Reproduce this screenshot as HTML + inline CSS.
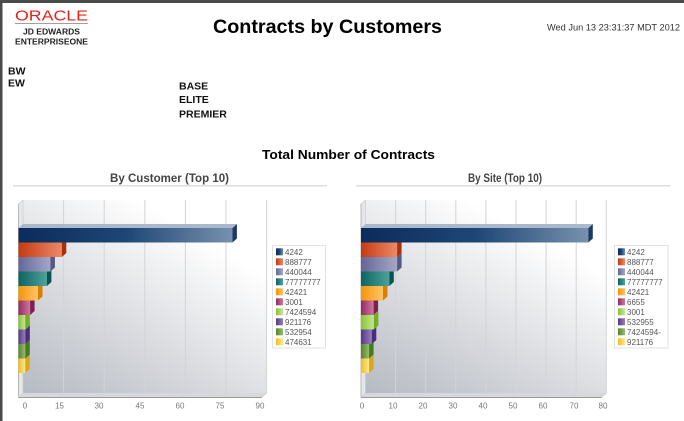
<!DOCTYPE html>
<html><head><meta charset="utf-8"><style>
html,body{margin:0;padding:0;background:#fff;}
svg{display:block;}
</style></head><body>
<svg width="684" height="421" viewBox="0 0 684 421" xmlns="http://www.w3.org/2000/svg" font-family="Liberation Sans, Arial, sans-serif">
<defs>
<linearGradient id="wallL" gradientUnits="userSpaceOnUse" x1="23" y1="393" x2="140" y2="200"><stop offset="0" stop-color="#b6bac2"/><stop offset="1" stop-color="#ffffff"/></linearGradient>
<linearGradient id="wallR" gradientUnits="userSpaceOnUse" x1="366" y1="393" x2="470" y2="200"><stop offset="0" stop-color="#b6bac2"/><stop offset="1" stop-color="#ffffff"/></linearGradient>
<linearGradient id="sh" x1="0" y1="0" x2="0" y2="1"><stop offset="0" stop-color="#fff" stop-opacity="0.25"/><stop offset="0.5" stop-color="#fff" stop-opacity="0"/><stop offset="1" stop-color="#000" stop-opacity="0.15"/></linearGradient>
<linearGradient id="c1" x1="0" x2="1"><stop offset="0" stop-color="#0b2c5c"/><stop offset="0.5" stop-color="#1d4676"/><stop offset="1" stop-color="#7891ae"/></linearGradient>
<linearGradient id="c2" x1="0" x2="1"><stop offset="0" stop-color="#c43a12"/><stop offset="1" stop-color="#ec8a68"/></linearGradient>
<linearGradient id="c3" x1="0" x2="1"><stop offset="0" stop-color="#646796"/><stop offset="1" stop-color="#a5a7c8"/></linearGradient>
<linearGradient id="c4" x1="0" x2="1"><stop offset="0" stop-color="#0c6460"/><stop offset="1" stop-color="#4ea29c"/></linearGradient>
<linearGradient id="c5" x1="0" x2="1"><stop offset="0" stop-color="#f39608"/><stop offset="1" stop-color="#ffc468"/></linearGradient>
<linearGradient id="c6" x1="0" x2="1"><stop offset="0" stop-color="#952a5e"/><stop offset="1" stop-color="#cc7aa0"/></linearGradient>
<linearGradient id="c7" x1="0" x2="1"><stop offset="0" stop-color="#88c436"/><stop offset="1" stop-color="#c8e690"/></linearGradient>
<linearGradient id="c8" x1="0" x2="1"><stop offset="0" stop-color="#563888"/><stop offset="1" stop-color="#9680bc"/></linearGradient>
<linearGradient id="c9" x1="0" x2="1"><stop offset="0" stop-color="#568628"/><stop offset="1" stop-color="#98bc70"/></linearGradient>
<linearGradient id="c10" x1="0" x2="1"><stop offset="0" stop-color="#f0be24"/><stop offset="1" stop-color="#ffe690"/></linearGradient>
</defs>

<!-- page frame -->
<rect x="0" y="0" width="684" height="3" fill="#4a4a4a"/>
<rect x="0" y="0" width="2.5" height="421" fill="#4a4a4a"/>

<!-- logo -->
<text x="15" y="20.5" font-size="15" fill="#e2231a" textLength="73" lengthAdjust="spacingAndGlyphs">ORACLE</text>
<rect x="15" y="23" width="73" height="1" fill="#a0a0a0"/>
<text x="51.5" y="34.5" font-size="8" font-weight="bold" fill="#222" text-anchor="middle" textLength="57" lengthAdjust="spacingAndGlyphs">JD EDWARDS</text>
<text x="51.5" y="44.5" font-size="8" font-weight="bold" fill="#222" text-anchor="middle" textLength="73" lengthAdjust="spacingAndGlyphs">ENTERPRISEONE</text>

<text x="327.5" y="33" font-size="19.7" font-weight="bold" fill="#000" text-anchor="middle" textLength="229" lengthAdjust="spacingAndGlyphs">Contracts by Customers</text>
<text x="547" y="30.5" font-size="9" fill="#333" textLength="133" lengthAdjust="spacingAndGlyphs">Wed Jun 13 23:31:37 MDT 2012</text>

<g font-size="10.5" font-weight="bold" fill="#111">
<text x="8" y="74.5">BW</text>
<text x="8" y="86.5">EW</text>
<text x="179" y="89.5">BASE</text>
<text x="179" y="103">ELITE</text>
<text x="179" y="117.5">PREMIER</text>
</g>

<text x="348.5" y="159" font-size="12.5" font-weight="bold" fill="#000" text-anchor="middle" textLength="173" lengthAdjust="spacingAndGlyphs">Total Number of Contracts</text>

<text x="169.5" y="182" font-size="11.5" font-weight="bold" fill="#444" text-anchor="middle" textLength="119" lengthAdjust="spacingAndGlyphs">By Customer (Top 10)</text>
<rect x="13" y="185" width="314" height="1.5" fill="#dedede"/>
<text x="505" y="182" font-size="11.5" font-weight="bold" fill="#444" text-anchor="middle" textLength="74" lengthAdjust="spacingAndGlyphs">By Site (Top 10)</text>
<rect x="356" y="185" width="314" height="1.5" fill="#dedede"/>

<!-- LEFT CHART -->
<rect x="23" y="200" width="243.6" height="193" fill="url(#wallL)"/>
<polygon points="18.5,204 23,200 23,393 18.5,397" fill="#e4e6ea" stroke="#c8c8c8" stroke-width="0.6"/>
<polygon points="18.5,397 23,393 266.6,393 262,397" fill="#d6d8dc"/>
<g stroke="#d2d4d8" stroke-width="1">
<line x1="63.6" y1="200" x2="63.6" y2="393"/><line x1="63.6" y1="393" x2="59.1" y2="397"/>
<line x1="104.2" y1="200" x2="104.2" y2="393"/><line x1="104.2" y1="393" x2="99.7" y2="397"/>
<line x1="144.8" y1="200" x2="144.8" y2="393"/><line x1="144.8" y1="393" x2="140.3" y2="397"/>
<line x1="185.4" y1="200" x2="185.4" y2="393"/><line x1="185.4" y1="393" x2="180.9" y2="397"/>
<line x1="226" y1="200" x2="226" y2="393"/><line x1="226" y1="393" x2="221.5" y2="397"/>
<line x1="266.6" y1="200" x2="266.6" y2="393"/><line x1="266.6" y1="393" x2="262" y2="397"/>
</g>
<line x1="18.5" y1="397.5" x2="262" y2="397.5" stroke="#9a9a9a" stroke-width="1"/>
<line x1="18.5" y1="204" x2="18.5" y2="397" stroke="#b0b0b0" stroke-width="0.8"/>

<!-- bars left: drawn bottom to top -->
<g>
<rect x="18.5" y="358.5" width="6.8" height="14.5" fill="url(#c10)"/><polygon points="25.3,358.5 29.8,354.5 29.8,369 25.3,373" fill="#d9a81a"/>
<rect x="18.5" y="344" width="6.8" height="14.5" fill="url(#c9)"/><polygon points="25.3,344 29.8,340 29.8,354.5 25.3,358.5" fill="#4a7a20"/>
<rect x="18.5" y="329.5" width="6.8" height="14.5" fill="url(#c8)"/><polygon points="25.3,329.5 29.8,325.5 29.8,340 25.3,344" fill="#4a2e78"/>
<rect x="18.5" y="315" width="6.8" height="14.5" fill="url(#c7)"/><polygon points="25.3,315 29.8,311 29.8,325.5 25.3,329.5" fill="#74ae28"/>
<rect x="18.5" y="300.5" width="11.6" height="14.5" fill="url(#c6)"/><polygon points="30.1,300.5 34.6,296.5 34.6,311 30.1,315" fill="#80204e"/>
<rect x="18.5" y="286" width="19.5" height="14.5" fill="url(#c5)"/><polygon points="38,286 42.5,282 42.5,296.5 38,300.5" fill="#d88000"/>
<rect x="18.5" y="271.5" width="28.4" height="14.5" fill="url(#c4)"/><polygon points="46.9,271.5 51.4,267.5 51.4,282 46.9,286" fill="#0a5450"/>
<rect x="18.5" y="257" width="31.9" height="14.5" fill="url(#c3)"/><polygon points="50.4,257 54.9,253 54.9,267.5 50.4,271.5" fill="#555880"/>
<rect x="18.5" y="242.5" width="43.3" height="14.5" fill="url(#c2)"/><polygon points="61.8,242.5 66.3,238.5 66.3,253 61.8,257" fill="#a8300c"/>
<rect x="18.5" y="228" width="213.9" height="14.5" fill="url(#c1)"/><polygon points="232.4,228 236.9,224 236.9,238.5 232.4,242.5" fill="#1a3a66"/>
<polygon points="18.5,228 23,224 236.9,224 232.4,228" fill="#a9b8cb"/>
<rect x="18.5" y="228" width="213.9" height="145" fill="url(#sh)" opacity="0"/>
</g>

<g font-size="8" fill="#777" text-anchor="middle">
<text x="25" y="408.5">0</text><text x="59.5" y="408.5">15</text><text x="99" y="408.5">30</text><text x="140" y="408.5">45</text><text x="180" y="408.5">60</text><text x="220" y="408.5">75</text><text x="260" y="408.5">90</text>
</g>

<!-- left legend -->
<rect x="272.5" y="245.5" width="53" height="102.5" fill="#fff" stroke="#e2e2e2" stroke-width="1"/>
<g>
<rect x="276" y="248.3" width="7" height="7" fill="url(#c1)"/>
<rect x="276" y="258.3" width="7" height="7" fill="url(#c2)"/>
<rect x="276" y="268.3" width="7" height="7" fill="url(#c3)"/>
<rect x="276" y="278.3" width="7" height="7" fill="url(#c4)"/>
<rect x="276" y="288.3" width="7" height="7" fill="url(#c5)"/>
<rect x="276" y="298.3" width="7" height="7" fill="url(#c6)"/>
<rect x="276" y="308.3" width="7" height="7" fill="url(#c7)"/>
<rect x="276" y="318.3" width="7" height="7" fill="url(#c8)"/>
<rect x="276" y="328.3" width="7" height="7" fill="url(#c9)"/>
<rect x="276" y="338.3" width="7" height="7" fill="url(#c10)"/>
</g>
<g font-size="8" fill="#555">
<text x="285" y="255">4242</text>
<text x="285" y="265">888777</text>
<text x="285" y="275">440044</text>
<text x="285" y="285">77777777</text>
<text x="285" y="295">42421</text>
<text x="285" y="305">3001</text>
<text x="285" y="315">7424594</text>
<text x="285" y="325">921176</text>
<text x="285" y="335">532954</text>
<text x="285" y="345">474631</text>
</g>

<!-- RIGHT CHART -->
<rect x="365.5" y="200" width="240.8" height="193" fill="url(#wallR)"/>
<polygon points="361,204 365.5,200 365.5,393 361,397" fill="#e4e6ea" stroke="#c8c8c8" stroke-width="0.6"/>
<polygon points="361,397 365.5,393 606.3,393 601.8,397" fill="#d6d8dc"/>
<g stroke="#d2d4d8" stroke-width="1">
<line x1="395.6" y1="200" x2="395.6" y2="393"/><line x1="395.6" y1="393" x2="391.1" y2="397"/>
<line x1="425.7" y1="200" x2="425.7" y2="393"/><line x1="425.7" y1="393" x2="421.2" y2="397"/>
<line x1="455.8" y1="200" x2="455.8" y2="393"/><line x1="455.8" y1="393" x2="451.3" y2="397"/>
<line x1="485.9" y1="200" x2="485.9" y2="393"/><line x1="485.9" y1="393" x2="481.4" y2="397"/>
<line x1="516" y1="200" x2="516" y2="393"/><line x1="516" y1="393" x2="511.5" y2="397"/>
<line x1="546.1" y1="200" x2="546.1" y2="393"/><line x1="546.1" y1="393" x2="541.6" y2="397"/>
<line x1="576.2" y1="200" x2="576.2" y2="393"/><line x1="576.2" y1="393" x2="571.7" y2="397"/>
<line x1="606.3" y1="200" x2="606.3" y2="393"/><line x1="606.3" y1="393" x2="601.8" y2="397"/>
</g>
<line x1="361" y1="397.5" x2="601.8" y2="397.5" stroke="#9a9a9a" stroke-width="1"/>
<line x1="361" y1="204" x2="361" y2="397" stroke="#b0b0b0" stroke-width="0.8"/>

<g>
<rect x="361" y="358.5" width="8.1" height="14.5" fill="url(#c10)"/><polygon points="369.1,358.5 373.6,354.5 373.6,369 369.1,373" fill="#d9a81a"/>
<rect x="361" y="344" width="8.1" height="14.5" fill="url(#c9)"/><polygon points="369.1,344 373.6,340 373.6,354.5 369.1,358.5" fill="#4a7a20"/>
<rect x="361" y="329.5" width="10.8" height="14.5" fill="url(#c8)"/><polygon points="371.8,329.5 376.3,325.5 376.3,340 371.8,344" fill="#4a2e78"/>
<rect x="361" y="315" width="12.9" height="14.5" fill="url(#c7)"/><polygon points="373.9,315 378.4,311 378.4,325.5 373.9,329.5" fill="#74ae28"/>
<rect x="361" y="300.5" width="12.6" height="14.5" fill="url(#c6)"/><polygon points="373.6,300.5 378.1,296.5 378.1,311 373.6,315" fill="#80204e"/>
<rect x="361" y="286" width="22" height="14.5" fill="url(#c5)"/><polygon points="383,286 387.5,282 387.5,296.5 383,300.5" fill="#d88000"/>
<rect x="361" y="271.5" width="28.3" height="14.5" fill="url(#c4)"/><polygon points="389.3,271.5 393.8,267.5 393.8,282 389.3,286" fill="#0a5450"/>
<rect x="361" y="257" width="36.1" height="14.5" fill="url(#c3)"/><polygon points="397.1,257 401.6,253 401.6,267.5 397.1,271.5" fill="#555880"/>
<rect x="361" y="242.5" width="36.1" height="14.5" fill="url(#c2)"/><polygon points="397.1,242.5 401.6,238.5 401.6,253 397.1,257" fill="#a8300c"/>
<rect x="361" y="228" width="227.3" height="14.5" fill="url(#c1)"/><polygon points="588.3,228 592.8,224 592.8,238.5 588.3,242.5" fill="#1a3a66"/>
<polygon points="361,228 365.5,224 592.8,224 588.3,228" fill="#a9b8cb"/>
</g>

<g font-size="8" fill="#777" text-anchor="middle">
<text x="362" y="408.5">0</text><text x="393" y="408.5">10</text><text x="423" y="408.5">20</text><text x="453" y="408.5">30</text><text x="483" y="408.5">40</text><text x="513" y="408.5">50</text><text x="543" y="408.5">60</text><text x="574" y="408.5">70</text><text x="603" y="408.5">80</text>
</g>

<!-- right legend -->
<rect x="614.5" y="245.5" width="53.5" height="102.5" fill="#fff" stroke="#e2e2e2" stroke-width="1"/>
<g>
<rect x="618" y="248.3" width="7" height="7" fill="url(#c1)"/>
<rect x="618" y="258.3" width="7" height="7" fill="url(#c2)"/>
<rect x="618" y="268.3" width="7" height="7" fill="url(#c3)"/>
<rect x="618" y="278.3" width="7" height="7" fill="url(#c4)"/>
<rect x="618" y="288.3" width="7" height="7" fill="url(#c5)"/>
<rect x="618" y="298.3" width="7" height="7" fill="url(#c6)"/>
<rect x="618" y="308.3" width="7" height="7" fill="url(#c7)"/>
<rect x="618" y="318.3" width="7" height="7" fill="url(#c8)"/>
<rect x="618" y="328.3" width="7" height="7" fill="url(#c9)"/>
<rect x="618" y="338.3" width="7" height="7" fill="url(#c10)"/>
</g>
<g font-size="8" fill="#555">
<text x="627" y="255">4242</text>
<text x="627" y="265">888777</text>
<text x="627" y="275">440044</text>
<text x="627" y="285">77777777</text>
<text x="627" y="295">42421</text>
<text x="627" y="305">6655</text>
<text x="627" y="315">3001</text>
<text x="627" y="325">532955</text>
<text x="627" y="335">7424594-</text>
<text x="627" y="345">921176</text>
</g>
</svg>
</body></html>
